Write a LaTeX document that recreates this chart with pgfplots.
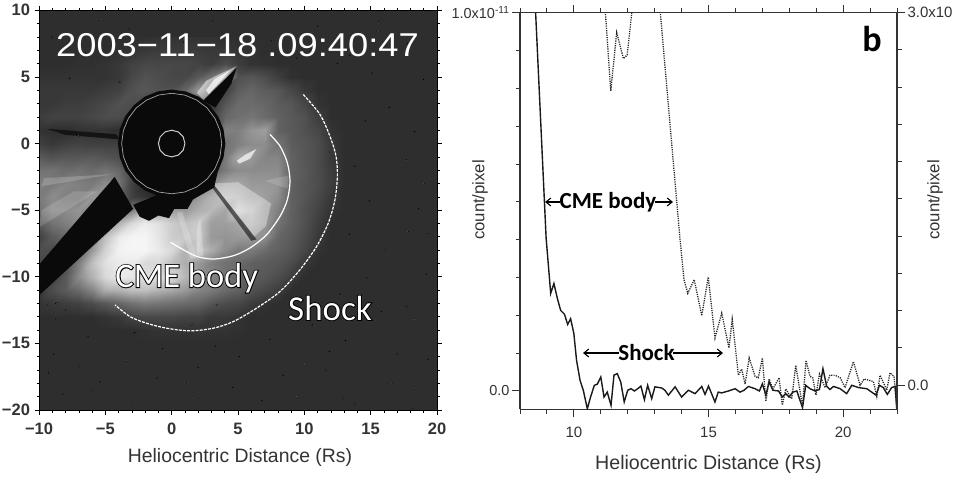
\documentclass[border=0pt]{standalone}
\usepackage{fontspec}
\setmainfont{Liberation Sans}
\newfontfamily\calfont{Carlito}
\newfontfamily\calrim[FakeBold=5]{Carlito}
\usepackage{pgfplots}
\pgfplotsset{compat=1.18}
\newcommand{\fs}[1]{\fontsize{#1}{#1}\selectfont}
\newcommand{\poly}[2]{\addplot[fill=#1,draw=none,mark=none] coordinates {#2};}
\newcommand{\lite}[2]{\addplot[fill=white,fill opacity=#1,draw=none,mark=none] coordinates {#2};}
% text with a black rim
\newcommand{\halo}[3]{%
  \node[black,font=\calrim\fs{#3}] at (#1) {#2};
  \node[white,font=\calfont\fs{#3}] at (#1) {#2};}
\usetikzlibrary{calc,arrows.meta}
\definecolor{axisc}{gray}{0.2}
\begin{document}
\begin{tikzpicture}[x=1pt,y=1pt]
\useasboundingbox (0,0) rectangle (957,479);

% ---- left panel: coronagraph image
\begin{axis}[
  at={(39pt,69pt)}, anchor=south west, scale only axis,
  width=398pt, height=399.7pt,
  xmin=-10, xmax=20, ymin=-20, ymax=10,
  axis on top, axis line style={line width=0.7pt},
  tick align=outside, tick style={black,line width=0.6pt},
  major tick length=4.5pt, minor tick length=2.5pt,
  xtick={-10,-5,0,5,10,15,20}, ytick={-20,-15,-10,-5,0,5,10},
  xticklabels={−10,−5,0,5,10,15,20}, yticklabels={−20,−15,−10,−5,0,5,10},
  minor tick num=4,
  xticklabel style={font=\bfseries\fs{16.5},text=black!80,yshift=-5pt},
  yticklabel style={font=\bfseries\fs{16.5},text=black!80,xshift=-1pt},
  colormap={grays}{gray(0cm)=(0); gray(1cm)=(1)},
  point meta min=0, point meta max=100,
]
\poly{black!82}{(-10,-20) (20,-20) (20,10) (-10,10)}
% brightness, one value per Rs
\addplot[surf,shader=interp,mesh/cols=25,point meta=explicit] coordinates {
(-10,8)[18] (-9,8)[18] (-8,8)[18] (-7,8)[18] (-6,8)[18] (-5,8)[18] (-4,8)[18] (-3,8)[18] (-2,8)[19] (-1,8)[20] (0,8)[20] (1,8)[20] (2,8)[20] (3,8)[20] (4,8)[19] (5,8)[18] (6,8)[18] (7,8)[18] (8,8)[18] (9,8)[18] (10,8)[18] (11,8)[18] (12,8)[18] (13,8)[18] (14,8)[18]
(-10,7)[18] (-9,7)[18] (-8,7)[18] (-7,7)[18] (-6,7)[18] (-5,7)[18] (-4,7)[19] (-3,7)[20] (-2,7)[22] (-1,7)[23] (0,7)[23] (1,7)[23] (2,7)[23] (3,7)[22] (4,7)[22] (5,7)[20] (6,7)[19] (7,7)[18] (8,7)[18] (9,7)[18] (10,7)[18] (11,7)[18] (12,7)[18] (13,7)[18] (14,7)[18]
(-10,6)[18] (-9,6)[18] (-8,6)[18] (-7,6)[19] (-6,6)[19] (-5,6)[20] (-4,6)[22] (-3,6)[26] (-2,6)[28] (-1,6)[28] (0,6)[28] (1,6)[28] (2,6)[26] (3,6)[24] (4,6)[30] (5,6)[24] (6,6)[20] (7,6)[19] (8,6)[18] (9,6)[18] (10,6)[18] (11,6)[18] (12,6)[18] (13,6)[18] (14,6)[18]
(-10,5)[20] (-9,5)[20] (-8,5)[20] (-7,5)[20] (-6,5)[20] (-5,5)[20] (-4,5)[22] (-3,5)[28] (-2,5)[32] (-1,5)[30] (0,5)[28] (1,5)[28] (2,5)[35] (3,5)[45] (4,5)[60] (5,5)[32] (6,5)[34] (7,5)[30] (8,5)[24] (9,5)[19] (10,5)[18] (11,5)[18] (12,5)[18] (13,5)[18] (14,5)[18]
(-10,4)[22] (-9,4)[22] (-8,4)[22] (-7,4)[22] (-6,4)[22] (-5,4)[24] (-4,4)[26] (-3,4)[32] (-2,4)[34] (-1,4)[32] (0,4)[32] (1,4)[40] (2,4)[60] (3,4)[30] (4,4)[25] (5,4)[36] (6,4)[40] (7,4)[36] (8,4)[34] (9,4)[28] (10,4)[22] (11,4)[18] (12,4)[18] (13,4)[18] (14,4)[18]
(-10,3)[22] (-9,3)[22] (-8,3)[24] (-7,3)[24] (-6,3)[26] (-5,3)[28] (-4,3)[32] (-3,3)[30] (-2,3)[25] (-1,3)[20] (0,3)[20] (1,3)[20] (2,3)[20] (3,3)[20] (4,3)[34] (5,3)[42] (6,3)[42] (7,3)[40] (8,3)[36] (9,3)[34] (10,3)[28] (11,3)[20] (12,3)[18] (13,3)[18] (14,3)[18]
(-10,2)[24] (-9,2)[26] (-8,2)[26] (-7,2)[26] (-6,2)[28] (-5,2)[30] (-4,2)[30] (-3,2)[25] (-2,2)[15] (-1,2)[10] (0,2)[10] (1,2)[10] (2,2)[15] (3,2)[25] (4,2)[40] (5,2)[44] (6,2)[46] (7,2)[42] (8,2)[38] (9,2)[35] (10,2)[32] (11,2)[24] (12,2)[18] (13,2)[18] (14,2)[18]
(-10,1)[20] (-9,1)[18] (-8,1)[18] (-7,1)[20] (-6,1)[20] (-5,1)[20] (-4,1)[18] (-3,1)[15] (-2,1)[10] (-1,1)[10] (0,1)[10] (1,1)[10] (2,1)[10] (3,1)[25] (4,1)[50] (5,1)[50] (6,1)[58] (7,1)[62] (8,1)[38] (9,1)[35] (10,1)[32] (11,1)[28] (12,1)[20] (13,1)[18] (14,1)[18]
(-10,0)[25] (-9,0)[22] (-8,0)[25] (-7,0)[26] (-6,0)[25] (-5,0)[25] (-4,0)[25] (-3,0)[15] (-2,0)[10] (-1,0)[10] (0,0)[10] (1,0)[10] (2,0)[10] (3,0)[25] (4,0)[45] (5,0)[50] (6,0)[55] (7,0)[55] (8,0)[45] (9,0)[36] (10,0)[34] (11,0)[30] (12,0)[22] (13,0)[18] (14,0)[18]
(-10,-1)[35] (-9,-1)[32] (-8,-1)[34] (-7,-1)[34] (-6,-1)[35] (-5,-1)[33] (-4,-1)[30] (-3,-1)[15] (-2,-1)[10] (-1,-1)[10] (0,-1)[10] (1,-1)[10] (2,-1)[10] (3,-1)[30] (4,-1)[48] (5,-1)[65] (6,-1)[60] (7,-1)[52] (8,-1)[52] (9,-1)[38] (10,-1)[34] (11,-1)[30] (12,-1)[22] (13,-1)[18] (14,-1)[18]
(-10,-2)[45] (-9,-2)[45] (-8,-2)[42] (-7,-2)[44] (-6,-2)[42] (-5,-2)[45] (-4,-2)[40] (-3,-2)[25] (-2,-2)[10] (-1,-2)[10] (0,-2)[10] (1,-2)[10] (2,-2)[15] (3,-2)[35] (4,-2)[48] (5,-2)[55] (6,-2)[55] (7,-2)[55] (8,-2)[55] (9,-2)[38] (10,-2)[35] (11,-2)[30] (12,-2)[24] (13,-2)[18] (14,-2)[18]
(-10,-3)[50] (-9,-3)[48] (-8,-3)[52] (-7,-3)[50] (-6,-3)[48] (-5,-3)[55] (-4,-3)[45] (-3,-3)[25] (-2,-3)[15] (-1,-3)[10] (0,-3)[10] (1,-3)[15] (2,-3)[25] (3,-3)[55] (4,-3)[65] (5,-3)[65] (6,-3)[60] (7,-3)[60] (8,-3)[58] (9,-3)[38] (10,-3)[34] (11,-3)[30] (12,-3)[24] (13,-3)[18] (14,-3)[18]
(-10,-4)[48] (-9,-4)[55] (-8,-4)[50] (-7,-4)[50] (-6,-4)[60] (-5,-4)[55] (-4,-4)[40] (-3,-4)[25] (-2,-4)[20] (-1,-4)[15] (0,-4)[15] (1,-4)[30] (2,-4)[60] (3,-4)[70] (4,-4)[75] (5,-4)[72] (6,-4)[65] (7,-4)[62] (8,-4)[55] (9,-4)[38] (10,-4)[34] (11,-4)[28] (12,-4)[22] (13,-4)[18] (14,-4)[18]
(-10,-5)[45] (-9,-5)[55] (-8,-5)[55] (-7,-5)[58] (-6,-5)[50] (-5,-5)[35] (-4,-5)[35] (-3,-5)[50] (-2,-5)[70] (-1,-5)[60] (0,-5)[62] (1,-5)[60] (2,-5)[68] (3,-5)[72] (4,-5)[65] (5,-5)[82] (6,-5)[75] (7,-5)[60] (8,-5)[50] (9,-5)[38] (10,-5)[32] (11,-5)[26] (12,-5)[20] (13,-5)[18] (14,-5)[18]
(-10,-6)[35] (-9,-6)[45] (-8,-6)[50] (-7,-6)[55] (-6,-6)[40] (-5,-6)[40] (-4,-6)[70] (-3,-6)[85] (-2,-6)[92] (-1,-6)[88] (0,-6)[80] (1,-6)[75] (2,-6)[80] (3,-6)[62] (4,-6)[62] (5,-6)[65] (6,-6)[70] (7,-6)[60] (8,-6)[45] (9,-6)[38] (10,-6)[32] (11,-6)[24] (12,-6)[18] (13,-6)[18] (14,-6)[18]
(-10,-7)[25] (-9,-7)[35] (-8,-7)[40] (-7,-7)[35] (-6,-7)[45] (-5,-7)[75] (-4,-7)[92] (-3,-7)[96] (-2,-7)[96] (-1,-7)[90] (0,-7)[80] (1,-7)[78] (2,-7)[80] (3,-7)[60] (4,-7)[58] (5,-7)[60] (6,-7)[60] (7,-7)[55] (8,-7)[40] (9,-7)[36] (10,-7)[30] (11,-7)[22] (12,-7)[18] (13,-7)[18] (14,-7)[18]
(-10,-8)[30] (-9,-8)[30] (-8,-8)[30] (-7,-8)[35] (-6,-8)[60] (-5,-8)[82] (-4,-8)[95] (-3,-8)[96] (-2,-8)[96] (-1,-8)[92] (0,-8)[85] (1,-8)[70] (2,-8)[80] (3,-8)[68] (4,-8)[55] (5,-8)[48] (6,-8)[48] (7,-8)[42] (8,-8)[38] (9,-8)[34] (10,-8)[28] (11,-8)[20] (12,-8)[18] (13,-8)[18] (14,-8)[18]
(-10,-9)[28] (-9,-9)[25] (-8,-9)[30] (-7,-9)[50] (-6,-9)[75] (-5,-9)[88] (-4,-9)[92] (-3,-9)[92] (-2,-9)[85] (-1,-9)[85] (0,-9)[75] (1,-9)[68] (2,-9)[60] (3,-9)[50] (4,-9)[44] (5,-9)[42] (6,-9)[38] (7,-9)[36] (8,-9)[34] (9,-9)[30] (10,-9)[22] (11,-9)[18] (12,-9)[18] (13,-9)[18] (14,-9)[18]
(-10,-10)[25] (-9,-10)[25] (-8,-10)[35] (-7,-10)[55] (-6,-10)[70] (-5,-10)[85] (-4,-10)[92] (-3,-10)[90] (-2,-10)[88] (-1,-10)[88] (0,-10)[85] (1,-10)[72] (2,-10)[58] (3,-10)[52] (4,-10)[45] (5,-10)[40] (6,-10)[36] (7,-10)[34] (8,-10)[30] (9,-10)[24] (10,-10)[18] (11,-10)[18] (12,-10)[18] (13,-10)[18] (14,-10)[18]
(-10,-11)[22] (-9,-11)[30] (-8,-11)[36] (-7,-11)[42] (-6,-11)[52] (-5,-11)[68] (-4,-11)[70] (-3,-11)[75] (-2,-11)[75] (-1,-11)[70] (0,-11)[65] (1,-11)[60] (2,-11)[52] (3,-11)[48] (4,-11)[42] (5,-11)[38] (6,-11)[32] (7,-11)[28] (8,-11)[24] (9,-11)[18] (10,-11)[18] (11,-11)[18] (12,-11)[18] (13,-11)[18] (14,-11)[18]
(-10,-12)[20] (-9,-12)[22] (-8,-12)[24] (-7,-12)[26] (-6,-12)[30] (-5,-12)[35] (-4,-12)[40] (-3,-12)[45] (-2,-12)[48] (-1,-12)[46] (0,-12)[44] (1,-12)[42] (2,-12)[40] (3,-12)[34] (4,-12)[30] (5,-12)[28] (6,-12)[24] (7,-12)[20] (8,-12)[18] (9,-12)[18] (10,-12)[18] (11,-12)[18] (12,-12)[18] (13,-12)[18] (14,-12)[18]
(-10,-13)[18] (-9,-13)[18] (-8,-13)[18] (-7,-13)[18] (-6,-13)[18] (-5,-13)[20] (-4,-13)[22] (-3,-13)[26] (-2,-13)[28] (-1,-13)[28] (0,-13)[28] (1,-13)[26] (2,-13)[26] (3,-13)[22] (4,-13)[22] (5,-13)[20] (6,-13)[18] (7,-13)[18] (8,-13)[18] (9,-13)[18] (10,-13)[18] (11,-13)[18] (12,-13)[18] (13,-13)[18] (14,-13)[18]
(-10,-14)[18] (-9,-14)[18] (-8,-14)[18] (-7,-14)[18] (-6,-14)[18] (-5,-14)[18] (-4,-14)[18] (-3,-14)[18] (-2,-14)[19] (-1,-14)[20] (0,-14)[20] (1,-14)[20] (2,-14)[20] (3,-14)[20] (4,-14)[20] (5,-14)[19] (6,-14)[18] (7,-14)[18] (8,-14)[18] (9,-14)[18] (10,-14)[18] (11,-14)[18] (12,-14)[18] (13,-14)[18] (14,-14)[18]
(-10,-15)[18] (-9,-15)[18] (-8,-15)[18] (-7,-15)[18] (-6,-15)[18] (-5,-15)[18] (-4,-15)[18] (-3,-15)[18] (-2,-15)[18] (-1,-15)[18] (0,-15)[18] (1,-15)[18] (2,-15)[18] (3,-15)[18] (4,-15)[18] (5,-15)[18] (6,-15)[18] (7,-15)[18] (8,-15)[18] (9,-15)[18] (10,-15)[18] (11,-15)[18] (12,-15)[18] (13,-15)[18] (14,-15)[18]
};
% sharp streaks on top of it
\poly{black!92}{(-9.4,1.1) (-4.2,0.7) (-3.8,0.3) (-8,0.65)}
\lite{0.5}{(1.9,3.8) (2.6,4.7) (3.6,5.2) (4.9,5.8) (2.4,3.3)}
\lite{0.7}{(2.6,4) (3.2,4.8) (4.4,5.5) (2.8,3.7)}
\lite{0.5}{(-6.2,-4.8) (-4.6,-2.8) (-4.2,-2.7) (-5.6,-4.8)}
\lite{0.18}{(-9.8,-3.2) (-4.4,-2.3) (-9.6,-2.6)}
\lite{0.15}{(-10,-6.3) (-5.6,-3.6) (-7.4,-3.6) (-9.8,-5)}
\lite{0.7}{(4.9,-1.3) (5.6,-0.8) (6.4,-0.4) (5.9,-1.15) (5.1,-1.5)}
\lite{0.35}{(3.1,-3) (5,-2.9) (7.5,-4.5) (7.1,-6.2) (6.2,-7)}
\lite{0.25}{(1.9,-6.6) (2.15,-5.5) (2.4,-8.4) (1.9,-8.5)}
\lite{0.2}{(0.4,-5.2) (0.8,-5.1) (1.9,-8.6) (1.4,-8.6)}
\lite{0.15}{(7,-2.8) (8.8,-2.4) (8.8,-3.4)}
\addplot[fill=black,fill opacity=0.55,draw=none,mark=none] coordinates {(2.9,-3.1) (3.1,-3) (6.4,-7.2) (6,-7.3)};
% pylon and occulter
\poly{black!96}{(4.9,5.7) (2.4,3.2) (3.3,2.7) (4.5,4.5)}
\poly{black!96}{(-4.3,-2.5) (-10,-9.1) (-10,-11.4) (-2.9,-4.9)}
\poly{black!96}{(-2.9,-4.6) (-2.4,-5.5) (-1.7,-5.8) (-1,-5.4) (-0.2,-5.6) (0.2,-4.9) (1.2,-4.9) (1.6,-4.2) (3.2,-3.3) (3.5,-2)}
\poly{black!96}{(4.05,0) (3.91,1.05) (3.51,2.03) (2.86,2.86) (2.03,3.51) (1.05,3.91) (0,4.05) (-1.05,3.91) (-2.03,3.51) (-2.86,2.86) (-3.51,2.03) (-3.91,1.05) (-4.05,0) (-3.91,-1.05) (-3.51,-2.03) (-2.86,-2.86) (-2.03,-3.51) (-1.05,-3.91) (0,-4.05) (1.05,-3.91) (2.03,-3.51) (2.86,-2.86) (3.51,-2.03) (3.91,-1.05)}
\addplot[black!35,line width=0.7pt,mark=none] coordinates {(3.77,0) (3.64,0.98) (3.26,1.89) (2.67,2.67) (1.89,3.26) (0.98,3.64) (0,3.77) (-0.98,3.64) (-1.89,3.26) (-2.67,2.67) (-3.26,1.89) (-3.64,0.98) (-3.77,0) (-3.64,-0.98) (-3.26,-1.89) (-2.67,-2.67) (-1.89,-3.26) (-0.98,-3.64) (0,-3.77) (0.98,-3.64) (1.89,-3.26) (2.67,-2.67) (3.26,-1.89) (3.64,-0.98) (3.77,0)};
\addplot[black!20,line width=1pt,mark=none] coordinates {(1,0) (0.87,0.5) (0.5,0.87) (0,1) (-0.5,0.87) (-0.87,0.5) (-1,0) (-0.87,-0.5) (-0.5,-0.87) (0,-1) (0.5,-0.87) (0.87,-0.5) (1,0)};
% stars
\addplot[only marks,mark=*,mark size=0.9pt,draw=none,fill=black!15] coordinates {
(-5.3,9.3) (15.6,9.1) (15.5,8.4) (-7,0.6) (-3.9,4.6) (13.1,3.7) (11.9,-0.6) (17.7,-1.25) (19,-3) (16.9,-3.5) (16.2,-5.3) (17.8,-6.6) (19.3,-6.7) (16.8,-9) (16.1,-8) (17.7,-12.2) (18.3,-13.2) (-9.3,-12.1) (-8.7,-12) (-8.8,-13.2) (-8.5,-13.2) (-8,-12.5) (-4.5,-16.7) (-3.4,-16.3) (-7,-16.7) (-6,-18.5) (-2.9,-19.5) (11.6,-17) (10,-16.5) (12.9,-19.1) (13.8,-19.6) (14.4,-19.6) (16.6,-18) (18.3,-18.4) (18.1,-19.9) (9.4,-19) (2.1,-19.2) (1,-18) (3.4,-12.1) (1.5,-13.6) (15,-15.4)};
\addplot[only marks,mark=*,mark size=0.55pt,draw=none,fill=black!45] coordinates {
(-9,8) (-6.5,6.8) (-3.2,8.6) (3.1,9.2) (7.5,7.7) (11,8.8) (13.4,6.6) (17.8,7.5) (19,4.8) (15.1,5.3) (14.6,1.7) (18.3,0.9) (13.8,-1.7) (14.9,-4.3) (18.6,-4.9) (13.4,-6.8) (14.7,-10.1) (19.2,-9.8) (12.7,-11.3) (15.8,-12.6) (10.6,-13.6) (13.1,-14.8) (17,-15.8) (19.3,-16.2) (7.4,-14.7) (5.1,-16) (8.4,-17.4) (3.3,-15.2) (-0.7,-15.4) (-2.8,-14.2) (-6.3,-14.5) (-8.9,-15.8) (-5.4,-17.9) (-1.1,-17.6) (4.6,-18.3) (6.8,-19.3) (11.9,-15.6) (-8.2,-18.8) (-9.3,-17.2) (2,-16.8) (16.4,2.7) (12.5,6) (9.4,6.4) (5.2,8.2) (0.9,7.6) (-7.7,4.9)};
% fitted fronts
\addplot[white,line width=1.2pt,smooth,mark=none] coordinates {(7.41,0.68) (8.17,-0.2) (8.72,-1.45) (8.92,-2.83) (8.72,-4.21) (8.17,-5.46) (7.16,-6.84) (5.9,-7.84) (4.65,-8.42) (3.14,-8.67) (1.88,-8.47) (0.88,-7.97) (-0.08,-7.42)};
\addplot[white,line width=1.2pt,dash pattern=on 3pt off 1.2pt,smooth,mark=none] coordinates {(9.92,3.68) (11.18,2.18) (11.93,0.55) (12.39,-0.95) (12.49,-2.46) (12.31,-4.21) (11.81,-5.96) (10.93,-7.72) (9.67,-9.47) (8.17,-11.1) (6.41,-12.35) (4.65,-13.36) (3.14,-13.86) (1.38,-14.06) (-0.38,-13.86) (-1.88,-13.49) (-3.14,-12.99) (-4.27,-12.11)};
\end{axis}
\node[white,font=\fs{33},anchor=center,xscale=1.1] at (237.5,434) {2003−11−18 .09:40:47};
\halo{186.7,201}{CME body}{34.5}
\halo{330,171}{Shock}{35}
\node[black!80,font=\fs{19.4}] at (240,22) {Heliocentric Distance (Rs)};

% ---- right panel: brightness cuts
\begin{axis}[
  at={(520pt,69.7pt)}, anchor=south west, scale only axis,
  width=377pt, height=396.6pt,
  xmin=8, xmax=22, ymin=-0.484, ymax=10,
  axis y line*=left, axis x line*=box,
  axis line style={axisc,line width=1.1pt},
  tick align=outside, tick style={axisc,line width=1pt},
  major tick length=8pt, minor tick length=4.5pt,
  xtick={10,15,20}, xticklabels={10,15,20},
  minor xtick={8,9,11,12,13,14,16,17,18,19,21,22},
  ytick={0,10}, minor ytick={1,2,3,4,5,6,7,8,9},
  yticklabels={0.0,{1.0x10\textsuperscript{-11}}},
  xticklabel style={font=\fs{15},text=black!80,yshift=-6pt},
  yticklabel style={font=\fs{14.5},text=black!80,xshift=1pt},
  xlabel={Heliocentric Distance (Rs)},
  xlabel style={font=\fs{19.6},text=black!80,yshift=-11pt},
]
\addplot[black!90,line width=1.4pt,mark=none] coordinates {
(8.58,10) (8.97,4.04) (9.14,2.58) (9.26,2.84) (9.39,2.44) (9.51,2.13) (9.65,2.03) (9.77,1.76) (9.88,1.91) (10,1.52) (10.1,0.81) (10.23,0.28) (10.35,0.02) (10.5,-0.47) (10.62,-0.16) (10.76,0.15) (10.87,0.18) (11,0.37) (11.12,-0.16) (11.24,-0.03) (11.38,-0.38) (11.49,0.42) (11.61,0.46) (11.74,0.24) (11.87,-0.29) (12,0.02) (12.12,0.06) (12.25,0) (12.37,0.06) (12.49,0.13) (12.62,-0.23) (12.74,0.15) (12.89,-0.2) (13.01,0.11) (13.26,0.08) (13.38,0.02) (13.51,-0.11) (13.76,0.11) (14,-0.16) (14.25,0.02) (14.5,-0.07) (14.75,0.12) (14.87,-0.09) (15,0.13) (15.24,-0.29) (15.36,-0.03) (15.49,-0.05) (15.74,0) (15.99,0.06) (16.17,-0.03) (16.32,0.02) (16.48,0.12) (16.73,0.06) (16.89,0) (17,0.19) (17.13,-0.11) (17.25,0.24) (17.39,0.02) (17.6,0) (17.74,-0.16) (17.87,-0.07) (17.99,-0.16) (18.13,-0.03) (18.28,0) (18.49,-0.44) (18.61,0.15) (18.77,0.06) (18.96,0) (19.12,0.04) (19.25,0.59) (19.39,0.12) (19.51,0.04) (19.64,0.12) (19.89,0.06) (20.13,-0.07) (20.32,0.15) (20.57,0.09) (20.88,0.06) (21.22,-0.11) (21.35,0.15) (21.49,0.09) (21.64,-0.09) (21.8,0.09) (21.93,0.12) (21.99,-0.47)};
\end{axis}
\begin{axis}[
  at={(520pt,69.7pt)}, anchor=south west, scale only axis,
  width=377pt, height=396.6pt,
  xmin=8, xmax=22, ymin=-0.194, ymax=3,
  axis x line=none, axis y line*=right,
  axis line style={axisc,line width=1.1pt},
  tick align=outside, tick style={axisc,line width=1pt},
  major tick length=8pt, minor tick length=4.5pt,
  ytick={0,3}, minor ytick={0.3,0.6,0.9,1.2,1.5,1.8,2.1,2.4,2.7},
  yticklabels={0.0,3.0x10},
  yticklabel style={font=\fs{15},text=black!80,xshift=-1pt},
]
\addplot[black!85,line width=1.3pt,dash pattern=on 1.2pt off 1.1pt,mark=none] coordinates {
(11.14,3.1) (11.37,2.37) (11.59,2.84) (11.84,2.63) (11.98,2.66) (12.2,3.1)};
\addplot[black!85,line width=1.3pt,dash pattern=on 1.2pt off 1.1pt,mark=none] coordinates {
(13.17,3.1) (13.94,1.18) (14.09,0.85) (14.23,0.74) (14.47,0.85) (14.75,0.56) (14.99,0.87) (15.24,0.38) (15.49,0.58) (15.76,0.3) (15.88,0.53) (16.11,0.08) (16.23,0.13) (16.36,0.01) (16.51,0.22) (16.73,0.07) (16.85,0.06) (17,0.22) (17.13,-0.13) (17.25,0.05) (17.39,-0.03) (17.62,0.06) (17.74,-0.16) (17.87,-0.03) (18.09,-0.11) (18.24,0.16) (18.49,-0.17) (18.62,0.2) (18.77,0.07) (18.87,0.06) (18.99,-0.08) (19.12,0.09) (19.33,-0.02) (19.51,0.08) (19.7,0.08) (19.89,0.06) (20.07,-0.02) (20.38,0.19) (20.63,0) (20.78,0.05) (21.12,0.03) (21.25,-0.09) (21.37,0.08) (21.62,-0.04) (21.74,0.1) (21.89,0.07) (21.99,-0.17)};
\end{axis}
\node[black!80,font=\fs{16.7},rotate=90] at (480,279) {count/pixel};
\node[black!80,font=\fs{16.7},rotate=90] at (935,279) {count/pixel};
\node[black,font=\calfont\bfseries\fs{23}] at (608,277) {CME body};
\draw[-{Straight Barb[length=5pt,width=8pt]},black,line width=1.1pt] (560,277) -- (545,277);
\draw[-{Straight Barb[length=5pt,width=8pt]},black,line width=1.1pt] (655,277) -- (673,277);
\node[black,font=\calfont\bfseries\fs{23}] at (646.5,126) {Shock};
\draw[-{Straight Barb[length=5pt,width=8pt]},black,line width=1.1pt] (619,126) -- (583,126);
\draw[-{Straight Barb[length=5pt,width=8pt]},black,line width=1.1pt] (673,126) -- (723,126);
\node[black,font=\calfont\bfseries\fs{36}] at (872,440) {b};
\end{tikzpicture}
\end{document}
